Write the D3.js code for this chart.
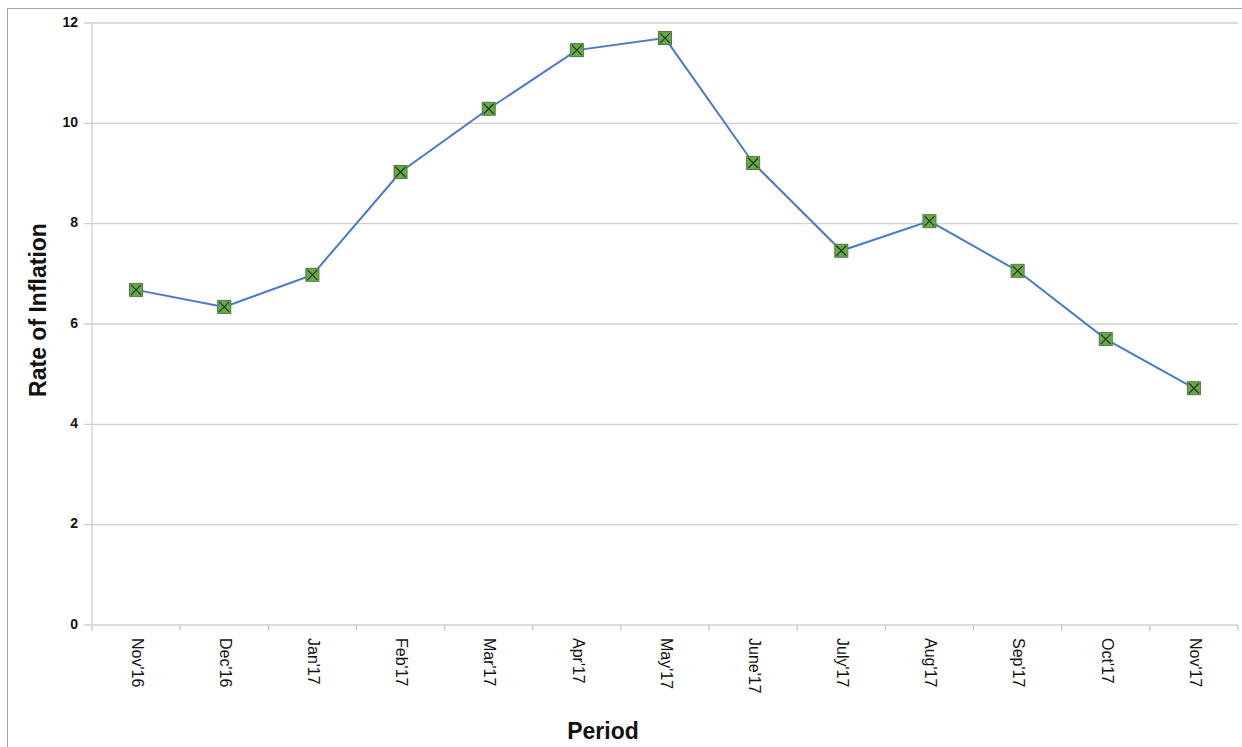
<!DOCTYPE html>
<html>
<head>
<meta charset="utf-8">
<script src="https://cdn.jsdelivr.net/npm/d3@7"></script>
<style>
body{margin:0;background:#fff;}
.tk{font-family:"Liberation Sans Narrow","Liberation Sans",Arial,sans-serif;}
</style>
</head>
<body>
<script>
var categories = ["Nov'16","Dec'16","Jan'17","Feb'17","Mar'17","Apr'17","May'17","June'17","July'17","Aug'17","Sep'17","Oct'17","Nov'17"];
var inflation = [6.68,6.34,6.98,9.03,10.29,11.46,11.70,9.21,7.46,8.05,7.06,5.70,4.72];
var yTicks = [0,2,4,6,8,10,12];

var width = 1242, height = 747;
var margin = {left:92,right:4,top:23,bottom:122};
var w = width-margin.left-margin.right, h = height-margin.top-margin.bottom;

var svg = d3.select("body").append("svg").attr("width",width).attr("height",height);

// outer frame
svg.append("rect").attr("x",7.5).attr("y",8.5).attr("width",1250).attr("height",760)
	.attr("fill","none").attr("stroke","#a6a6a6").attr("stroke-width",1);

var g = svg.append("g").attr("transform","translate("+margin.left+","+margin.top+")");

var x = d3.scaleBand().domain(categories).range([0,w]).padding(0);
var y = d3.scaleLinear().domain([0,12]).range([h,0]);

// gridlines
g.selectAll(".grid").data(yTicks).enter().append("line")
	.attr("x1",-8).attr("x2",w)
	.attr("y1",function(d){ return y(d);}).attr("y2",function(d){ return y(d);})
	.attr("stroke","#d0d0d0").attr("stroke-width",1.3);

// y axis line
g.append("line").attr("x1",0).attr("x2",0).attr("y1",0).attr("y2",h)
	.attr("stroke","#d0d0d0").attr("stroke-width",1.3);

// x ticks at band edges
var edges = categories.map(function(d){ return x(d);}).concat([w]);
g.selectAll(".xt").data(edges).enter().append("line")
	.attr("x1",function(d){ return d;}).attr("x2",function(d){ return d;})
	.attr("y1",h).attr("y2",h+6)
	.attr("stroke","#c8c8c8").attr("stroke-width",1.3);

// y tick labels
g.selectAll(".yl").data(yTicks).enter().append("text")
	.attr("class","tk")
	.attr("x",-14).attr("y",function(d){ return y(d);})
	.attr("text-anchor","end").attr("dominant-baseline","middle")
	.attr("font-size",14).attr("font-weight","bold").attr("fill","#111")
	.text(function(d){ return d;});

// x tick labels (rotated)
g.selectAll(".xl").data(categories).enter().append("text")
	.attr("class","tk")
	.attr("transform",function(d){ return "translate("+(x(d)+x.bandwidth()/2)+","+(h+13)+") rotate(90)";})
	.attr("text-anchor","start").attr("dominant-baseline","middle")
	.attr("font-size",16).attr("fill","#111")
	.text(function(d){ return d;});

// line
var line = d3.line().x(function(d,i){ return x(categories[i])+x.bandwidth()/2;}).y(function(d){ return y(d);});
g.append("path").datum(inflation).attr("d",line)
	.attr("fill","none").attr("stroke","#4a78cc").attr("stroke-width",2);

// markers
var m = g.selectAll(".mk").data(inflation).enter().append("g")
	.attr("transform",function(d,i){ return "translate("+(x(categories[i])+x.bandwidth()/2)+","+y(d)+")";});
m.append("rect").attr("x",-6.5).attr("y",-6.5).attr("width",13).attr("height",13)
	.attr("fill","#6aa84f").attr("stroke","#4e7d38").attr("stroke-width",1);
m.append("path").attr("d","M-5,-5L5,5M5,-5L-5,5")
	.attr("stroke","#1f3a12").attr("stroke-width",1.2);

// axis titles
svg.append("text").attr("class","tk")
	.attr("transform","translate(40,310) rotate(-90)")
	.attr("text-anchor","middle").attr("dominant-baseline","middle")
	.attr("font-size",23).attr("font-weight","bold").attr("fill","#111")
	.text("Rate of Inflation");

svg.append("text").attr("class","tk")
	.attr("x",603).attr("y",733)
	.attr("text-anchor","middle").attr("dominant-baseline","middle")
	.attr("font-size",23).attr("font-weight","bold").attr("fill","#111")
	.text("Period");
</script>
</body>
</html>
